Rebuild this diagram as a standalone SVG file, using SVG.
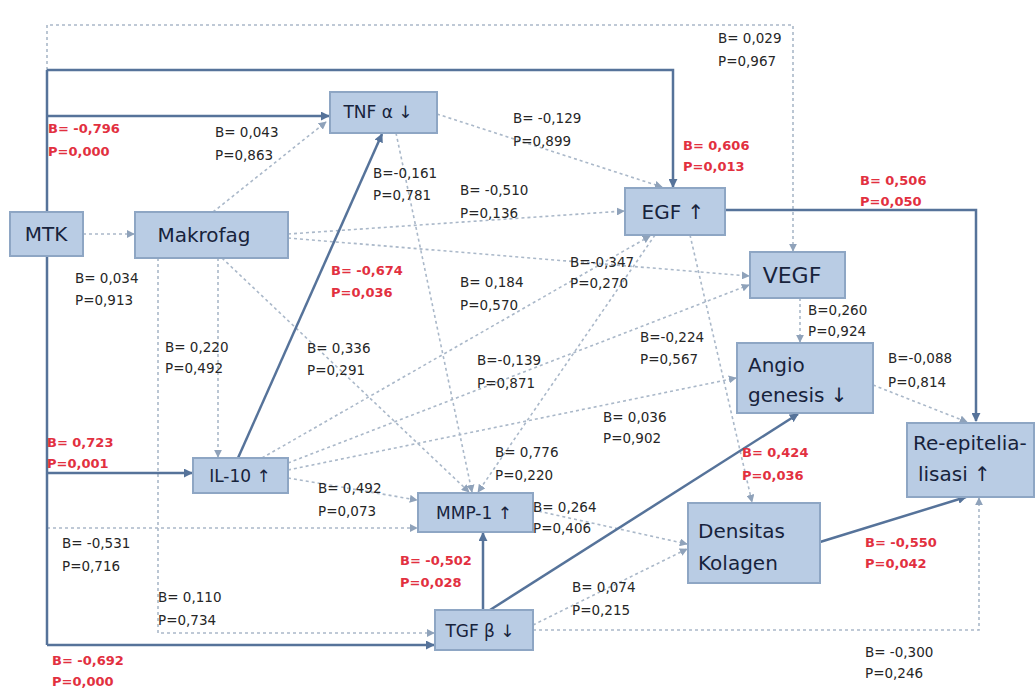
<svg xmlns="http://www.w3.org/2000/svg" width="1036" height="690" viewBox="0 0 1036 690">
  <style>
    .node rect { fill: #b9cce4; stroke: #8ea6c4; stroke-width: 2; }
    .node text { font-family: "DejaVu Sans", "Liberation Sans", sans-serif; fill: #17233c; }
    .big { font-size: 20px; }
    .small { font-size: 17px; }
    .solid { fill: none; stroke: #56739a; stroke-width: 2.5; marker-end: url(#arS); }
    .solid.noarrow { marker-end: none; }
    .dot { fill: none; stroke: #aab8c9; stroke-width: 1.6; stroke-dasharray: 3 3; marker-end: url(#arD); }
    .lbl { font-family: "DejaVu Sans", "Liberation Sans", sans-serif; font-size: 13.5px; fill: #262626; }
    .sig { fill: #e2303f; font-weight: bold; font-size: 13px; }
  </style>
  <defs>
    <marker id="arS" viewBox="0 0 10 10" refX="9" refY="5" markerWidth="9" markerHeight="9" markerUnits="userSpaceOnUse" orient="auto">
      <path d="M0,0 L10,5 L0,10 z" fill="#56739a"/>
    </marker>
    <marker id="arD" viewBox="0 0 10 10" refX="9" refY="5" markerWidth="8" markerHeight="8" markerUnits="userSpaceOnUse" orient="auto">
      <path d="M0,0 L10,5 L0,10 z" fill="#8fa2ba"/>
    </marker>
  </defs>
  <rect width="1036" height="690" fill="#ffffff"/>

  <!-- connectors -->
  <g id="connectors">
    <!-- non-significant paths (dotted) -->
    <path class="dot" d="M47,70 V25 H793 V251"/>
    <path class="dot" d="M83,234 H134"/>
    <path class="dot" d="M213,212 L326,122"/>
    <path class="dot" d="M288,234 L624,211"/>
    <path class="dot" d="M288,238 L749,276"/>
    <path class="dot" d="M218,258 V457"/>
    <path class="dot" d="M222,258 L469,492"/>
    <path class="dot" d="M158,258 V633 H434"/>
    <path class="dot" d="M47,528 H417"/>
    <path class="dot" d="M437,114 L662,187"/>
    <path class="dot" d="M396,133 L472,492"/>
    <path class="dot" d="M655,235 L478,492"/>
    <path class="dot" d="M690,235 L752,502"/>
    <path class="dot" d="M262,458 L650,236"/>
    <path class="dot" d="M288,463 L749,285"/>
    <path class="dot" d="M288,470 L736,378"/>
    <path class="dot" d="M288,478 L417,500"/>
    <path class="dot" d="M800,298 V342"/>
    <path class="dot" d="M873,385 L967,422"/>
    <path class="dot" d="M533,510 L687,544"/>
    <path class="dot" d="M533,625 L687,549"/>
    <path class="dot" d="M533,630 H979 V498"/>
    <!-- significant paths (solid) -->
    <path class="solid noarrow" d="M47,70 V645"/>
    <path class="solid" d="M47,70 H673 V187"/>
    <path class="solid" d="M47,116 H329"/>
    <path class="solid" d="M47,473 H192"/>
    <path class="solid" d="M47,645 H434"/>
    <path class="solid" d="M238,458 L382,134"/>
    <path class="solid" d="M725,210 H976 V421"/>
    <path class="solid" d="M483,610 V533"/>
    <path class="solid" d="M490,610 L798,414"/>
    <path class="solid" d="M820,542 L966,497"/>
  </g>

  <!-- nodes -->
  <g id="node-mtk" class="node"><rect x="10" y="212" width="73" height="44"/><text class="big" x="46" y="241" text-anchor="middle">MTK</text></g>
  <g id="node-makrofag" class="node"><rect x="135" y="212" width="153" height="46"/><text class="big" x="204" y="242" text-anchor="middle">Makrofag</text></g>
  <g id="node-tnf" class="node"><rect x="330" y="92" width="107" height="41"/><text class="small" x="378" y="118" text-anchor="middle">TNF α ↓</text></g>
  <g id="node-egf" class="node"><rect x="625" y="188" width="100" height="47"/><text class="big" x="673" y="219" text-anchor="middle">EGF ↑</text></g>
  <g id="node-vegf" class="node"><rect x="750" y="252" width="95" height="46"/><text class="big" x="792" y="283" text-anchor="middle" style="font-size:22px">VEGF</text></g>
  <g id="node-angio" class="node"><rect x="737" y="343" width="136" height="70"/><text class="big" x="748" y="372">Angio</text><text class="big" x="748" y="402">genesis ↓</text></g>
  <g id="node-reep" class="node"><rect x="907" y="423" width="127" height="74"/><text class="big" x="913" y="450">Re-epitelia-</text><text class="big" x="918" y="481">lisasi ↑</text></g>
  <g id="node-densitas" class="node"><rect x="688" y="503" width="132" height="80"/><text class="big" x="698" y="538">Densitas</text><text class="big" x="698" y="570">Kolagen</text></g>
  <g id="node-il10" class="node"><rect x="193" y="458" width="95" height="35"/><text class="small" x="240" y="482" text-anchor="middle">IL-10 ↑</text></g>
  <g id="node-mmp1" class="node"><rect x="418" y="493" width="115" height="39"/><text class="small" x="474" y="519" text-anchor="middle">MMP-1 ↑</text></g>
  <g id="node-tgf" class="node"><rect x="435" y="610" width="98" height="40"/><text class="small" x="480" y="637" text-anchor="middle">TGF β ↓</text></g>

  <!-- path coefficients -->
  <g id="labels" class="lbl">
    <text class="sig" x="48" y="133">B= -0,796</text><text class="sig" x="48" y="156">P=0,000</text>
    <text x="215" y="137">B= 0,043</text><text x="215" y="160">P=0,863</text>
    <text x="513" y="123">B= -0,129</text><text x="513" y="146">P=0,899</text>
    <text x="373" y="178">B=-0,161</text><text x="373" y="200">P=0,781</text>
    <text x="460" y="195">B= -0,510</text><text x="460" y="218">P=0,136</text>
    <text x="718" y="43">B= 0,029</text><text x="718" y="66">P=0,967</text>
    <text class="sig" x="683" y="150">B= 0,606</text><text class="sig" x="683" y="171">P=0,013</text>
    <text class="sig" x="860" y="185">B= 0,506</text><text class="sig" x="860" y="206">P=0,050</text>
    <text x="75" y="283">B= 0,034</text><text x="75" y="305">P=0,913</text>
    <text class="sig" x="331" y="275">B= -0,674</text><text class="sig" x="331" y="297">P=0,036</text>
    <text x="570" y="267">B=-0,347</text><text x="570" y="288">P=0,270</text>
    <text x="460" y="287">B= 0,184</text><text x="460" y="310">P=0,570</text>
    <text x="165" y="352">B= 0,220</text><text x="165" y="373">P=0,492</text>
    <text x="307" y="353">B= 0,336</text><text x="307" y="375">P=0,291</text>
    <text x="477" y="365">B=-0,139</text><text x="477" y="388">P=0,871</text>
    <text x="640" y="342">B=-0,224</text><text x="640" y="364">P=0,567</text>
    <text x="808" y="315">B=0,260</text><text x="808" y="336">P=0,924</text>
    <text x="888" y="363">B=-0,088</text><text x="888" y="387">P=0,814</text>
    <text x="603" y="422">B= 0,036</text><text x="603" y="443">P=0,902</text>
    <text x="495" y="457">B= 0,776</text><text x="495" y="480">P=0,220</text>
    <text class="sig" x="742" y="457">B= 0,424</text><text class="sig" x="742" y="480">P=0,036</text>
    <text class="sig" x="47" y="447">B= 0,723</text><text class="sig" x="47" y="468">P=0,001</text>
    <text x="318" y="493">B= 0,492</text><text x="318" y="516">P=0,073</text>
    <text x="533" y="512">B= 0,264</text><text x="533" y="533">P=0,406</text>
    <text x="62" y="548">B= -0,531</text><text x="62" y="571">P=0,716</text>
    <text class="sig" x="400" y="565">B= -0,502</text><text class="sig" x="400" y="587">P=0,028</text>
    <text class="sig" x="865" y="547">B= -0,550</text><text class="sig" x="865" y="568">P=0,042</text>
    <text x="158" y="602">B= 0,110</text><text x="158" y="625">P=0,734</text>
    <text x="572" y="592">B= 0,074</text><text x="572" y="615">P=0,215</text>
    <text class="sig" x="52" y="665">B= -0,692</text><text class="sig" x="52" y="686">P=0,000</text>
    <text x="865" y="657">B= -0,300</text><text x="865" y="678">P=0,246</text>
  </g>
</svg>
